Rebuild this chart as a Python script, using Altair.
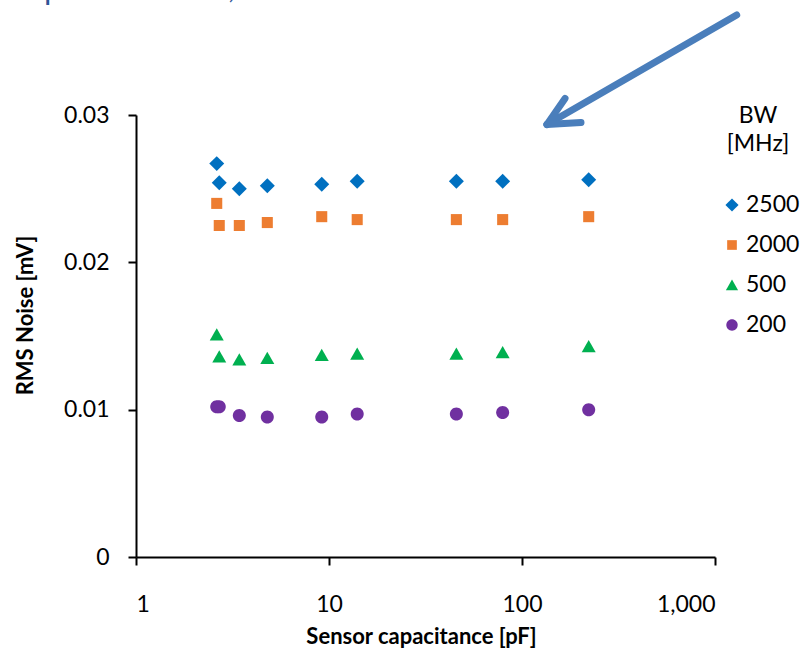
import altair as alt
import pandas as pd

# ---- data ----
bw_labels = ["2500", "2000", "500", "200"]
capacitance = [2.62, 2.70, 3.43, 4.79, 9.17, 14.0, 45.7, 79.4, 221.6]
noise_2500 = [0.0267, 0.0254, 0.0250, 0.0252, 0.0253, 0.0255, 0.0255, 0.0255, 0.0256]
noise_2000 = [0.0240, 0.0225, 0.0225, 0.0227, 0.0231, 0.0229, 0.0229, 0.0229, 0.0231]
noise_500 = [0.0151, 0.0136, 0.0134, 0.0135, 0.0137, 0.0138, 0.0138, 0.0139, 0.0143]
noise_200 = [0.0102, 0.0102, 0.0096, 0.0095, 0.0095, 0.0097, 0.0097, 0.0098, 0.0100]
x_ticks = [1, 10, 100, 1000]
y_ticks = [0, 0.01, 0.02, 0.03]

series = {"2500": noise_2500, "2000": noise_2000, "500": noise_500, "200": noise_200}
rows = []
for bw in bw_labels:
    for c, n in zip(capacitance, series[bw]):
        rows.append({"cap": c, "noise": n, "bw": bw})
df = pd.DataFrame(rows)
leg_df = pd.DataFrame({"bw": bw_labels, "rank": list(range(len(bw_labels)))})

# ---- styles ----
FONT = "Lato"
colors = ["#0070C0", "#ED7D31", "#00B050", "#7030A0"]
shapes = [
    "M0,-1.07L1.07,0L0,1.07L-1.07,0Z",
    "M-0.79,-0.79L0.79,-0.79L0.79,0.79L-0.79,0.79Z",
    "M0,-0.9L1,0.85L-1,0.85Z",
    "M0.93,0A0.93,0.93,0,1,1,-0.93,0A0.93,0.93,0,1,1,0.93,0Z",
]
color_enc = alt.Color("bw:N", scale=alt.Scale(domain=bw_labels, range=colors), legend=None)
shape_enc = alt.Shape("bw:N", scale=alt.Scale(domain=bw_labels, range=shapes), legend=None)

points = alt.Chart(df).mark_point(filled=True, opacity=1, size=196, strokeWidth=0).encode(
    x=alt.X(
        "cap:Q",
        scale=alt.Scale(type="log", domain=[1, 1000]),
        axis=alt.Axis(
            values=x_ticks, format=",", title="Sensor capacitance [pF]",
            labelPadding=28, titleY=86, titleBaseline="alphabetic", titleX=285,
        ),
    ),
    y=alt.Y(
        "noise:Q",
        scale=alt.Scale(domain=[0, 0.03]),
        axis=alt.Axis(
            values=y_ticks, format=".2~f", title="RMS Noise [mV]",
            labelPadding=19, titleX=-111, titleY=200, titleBaseline="middle",
        ),
    ),
    color=color_enc,
    shape=shape_enc,
)

leg_y = alt.Y("rank:Q", scale=alt.Scale(domain=[0, 3], range=[90, 210]), axis=None)
leg_sym = alt.Chart(leg_df).mark_point(filled=True, opacity=1, size=150, strokeWidth=0).encode(
    x=alt.value(596), y=leg_y, color=color_enc, shape=shape_enc
)
leg_txt = alt.Chart(leg_df).mark_text(
    align="left", baseline="middle", fontSize=23, font=FONT, color="black"
).encode(x=alt.value(610), y=leg_y, text="bw:N")

one = alt.Data(values=[{}])
leg_t1 = alt.Chart(one).mark_text(
    text="BW", align="center", baseline="middle", fontSize=23, font=FONT, color="black"
).encode(x=alt.value(622), y=alt.value(1))
leg_t2 = alt.Chart(one).mark_text(
    text="[MHz]", align="center", baseline="middle", fontSize=23, font=FONT, color="black"
).encode(x=alt.value(622), y=alt.value(29))

ARROW = "#4A7EBB"
arrow_kw = dict(color=ARROW, strokeWidth=7, strokeCap="round")
shaft = alt.Chart(one).mark_rule(**arrow_kw).encode(
    x=alt.value(600.7), y=alt.value(-100), x2=alt.value(411), y2=alt.value(9.5)
)
barb1 = alt.Chart(one).mark_rule(**arrow_kw).encode(
    x=alt.value(411), y=alt.value(9.5), x2=alt.value(429), y2=alt.value(-16.5)
)
barb2 = alt.Chart(one).mark_rule(**arrow_kw).encode(
    x=alt.value(411), y=alt.value(9.5), x2=alt.value(445), y2=alt.value(7.5)
)

clip1 = alt.Chart(one).mark_text(
    text="p", align="left", baseline="alphabetic", fontSize=32, font=FONT, color="#2F5597"
).encode(x=alt.value(-92), y=alt.value(-116))
clip2 = alt.Chart(one).mark_text(
    text=",", align="left", baseline="alphabetic", fontSize=32, font=FONT, color="#2F5597"
).encode(x=alt.value(92), y=alt.value(-117))

chart = alt.layer(
    points, leg_sym, leg_txt, leg_t1, leg_t2, shaft, barb1, barb2, clip1, clip2
).resolve_scale(y="independent").properties(
    width=579, height=442,
    autosize=alt.AutoSizeParams(type="none"),
    padding={"left": 136, "top": 115, "right": 89, "bottom": 94},
    background="white",
).configure_view(stroke=None).configure_axis(
    grid=False,
    domainColor="black", domainWidth=2,
    tickColor="black", tickWidth=2, tickSize=8,
    labelFont=FONT, labelFontSize=23, labelColor="black",
    titleFont=FONT, titleFontSize=22, titleFontWeight="bold", titleColor="black",
)

chart.save("out.html", embed_options={"renderer": "svg", "actions": False})
